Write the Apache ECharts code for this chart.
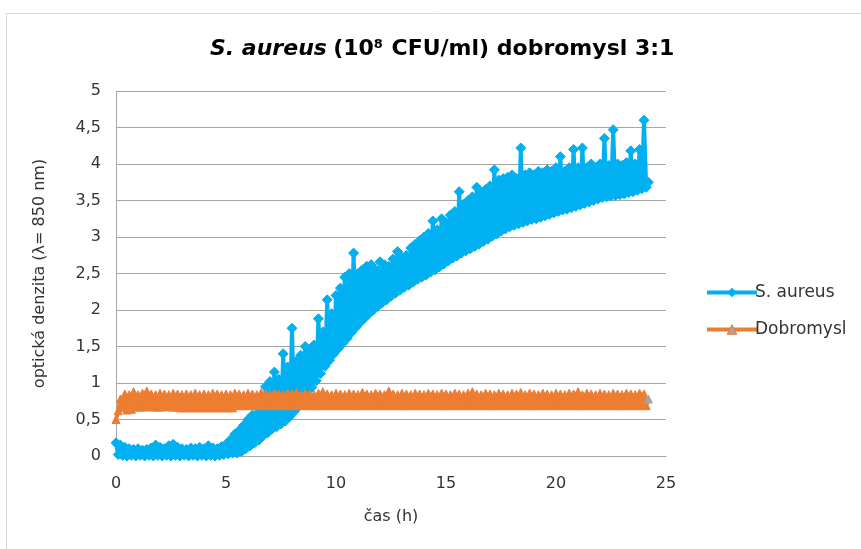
<!DOCTYPE html>
<html>
<head>
<meta charset="utf-8">
<script src="https://cdn.jsdelivr.net/npm/echarts@6/dist/echarts.min.js"></script>
<style>html,body{margin:0;padding:0;background:#fff}#c{width:861px;height:549px}</style>
</head>
<body>
<div id="c"></div>
<script>
// sampling times (h)
var time = [
0.0,0.1,0.2,0.3,0.4,0.5,0.6,0.7,0.8,0.9,
1.0,1.1,1.2,1.3,1.4,1.5,1.6,1.7,1.8,1.9,
2.0,2.1,2.2,2.3,2.4,2.5,2.6,2.7,2.8,2.9,
3.0,3.1,3.2,3.3,3.4,3.5,3.6,3.7,3.8,3.9,
4.0,4.1,4.2,4.3,4.4,4.5,4.6,4.7,4.8,4.9,
5.0,5.1,5.2,5.3,5.4,5.5,5.6,5.7,5.8,5.9,
6.0,6.1,6.2,6.3,6.4,6.5,6.6,6.7,6.8,6.9,
7.0,7.1,7.2,7.3,7.4,7.5,7.6,7.7,7.8,7.9,
8.0,8.1,8.2,8.3,8.4,8.5,8.6,8.7,8.8,8.9,
9.0,9.1,9.2,9.3,9.4,9.5,9.6,9.7,9.8,9.9,
10.0,10.1,10.2,10.3,10.4,10.5,10.6,10.7,10.8,10.9,
11.0,11.1,11.2,11.3,11.4,11.5,11.6,11.7,11.8,11.9,
12.0,12.1,12.2,12.3,12.4,12.5,12.6,12.7,12.8,12.9,
13.0,13.1,13.2,13.3,13.4,13.5,13.6,13.7,13.8,13.9,
14.0,14.1,14.2,14.3,14.4,14.5,14.6,14.7,14.8,14.9,
15.0,15.1,15.2,15.3,15.4,15.5,15.6,15.7,15.8,15.9,
16.0,16.1,16.2,16.3,16.4,16.5,16.6,16.7,16.8,16.9,
17.0,17.1,17.2,17.3,17.4,17.5,17.6,17.7,17.8,17.9,
18.0,18.1,18.2,18.3,18.4,18.5,18.6,18.7,18.8,18.9,
19.0,19.1,19.2,19.3,19.4,19.5,19.6,19.7,19.8,19.9,
20.0,20.1,20.2,20.3,20.4,20.5,20.6,20.7,20.8,20.9,
21.0,21.1,21.2,21.3,21.4,21.5,21.6,21.7,21.8,21.9,
22.0,22.1,22.2,22.3,22.4,22.5,22.6,22.7,22.8,22.9,
23.0,23.1,23.2,23.3,23.4,23.5,23.6,23.7,23.8,23.9,
24.0,24.1,24.2
];

var sAureus = [
0.18,0.02,0.15,0.01,0.12,0.00,0.10,0.01,0.09,0.00,
0.10,0.01,0.08,0.00,0.09,0.01,0.11,0.00,0.15,0.01,
0.12,0.00,0.10,0.01,0.14,0.00,0.16,0.01,0.12,0.00,
0.10,0.01,0.09,0.00,0.11,0.01,0.10,0.00,0.12,0.01,
0.10,0.00,0.14,0.01,0.11,0.00,0.10,0.01,0.13,0.02,
0.16,0.03,0.22,0.04,0.30,0.04,0.35,0.06,0.42,0.10,
0.50,0.14,0.56,0.18,0.70,0.22,0.82,0.28,0.95,0.32,
1.02,0.37,1.15,0.40,1.05,0.44,1.40,0.48,1.22,0.54,
1.75,0.61,1.30,0.68,1.38,0.76,1.50,0.84,1.45,0.94,
1.52,1.03,1.88,1.13,1.70,1.23,2.14,1.31,1.95,1.40,
2.20,1.47,2.30,1.54,2.45,1.61,2.50,1.69,2.78,1.76,
2.50,1.83,2.55,1.89,2.60,1.95,2.62,2.00,2.55,2.05,
2.66,2.10,2.62,2.14,2.60,2.19,2.70,2.23,2.80,2.27,
2.72,2.31,2.75,2.34,2.85,2.38,2.90,2.42,2.95,2.45,
3.00,2.48,3.05,2.52,3.22,2.55,3.10,2.59,3.25,2.63,
3.20,2.67,3.30,2.71,3.35,2.74,3.62,2.78,3.45,2.81,
3.50,2.84,3.55,2.87,3.68,2.90,3.60,2.94,3.65,2.97,
3.70,3.01,3.92,3.04,3.78,3.08,3.80,3.11,3.82,3.14,
3.85,3.16,3.80,3.18,4.22,3.20,3.85,3.22,3.88,3.24,
3.85,3.25,3.90,3.27,3.88,3.29,3.92,3.31,3.90,3.33,
3.95,3.35,4.10,3.37,3.90,3.38,3.95,3.40,4.20,3.42,
3.95,3.44,4.22,3.46,3.95,3.48,4.00,3.50,3.95,3.52,
4.00,3.54,4.35,3.55,3.98,3.56,4.47,3.57,4.00,3.58,
3.98,3.59,4.02,3.61,4.18,3.62,4.00,3.64,4.20,3.66,
4.60,3.68,3.75
];

var dobromysl = [
0.50,0.62,0.78,0.66,0.85,0.63,0.84,0.64,0.88,0.67,
0.84,0.67,0.86,0.67,0.89,0.68,0.85,0.67,0.84,0.67,
0.86,0.67,0.85,0.68,0.84,0.67,0.86,0.67,0.85,0.66,
0.84,0.66,0.85,0.66,0.84,0.66,0.86,0.66,0.84,0.66,
0.85,0.66,0.84,0.66,0.86,0.66,0.85,0.66,0.84,0.66,
0.85,0.66,0.84,0.66,0.86,0.69,0.85,0.69,0.84,0.69,
0.86,0.69,0.85,0.69,0.84,0.69,0.87,0.69,0.85,0.69,
0.84,0.69,0.86,0.69,0.85,0.69,0.84,0.69,0.86,0.69,
0.85,0.69,0.87,0.69,0.84,0.69,0.86,0.69,0.85,0.69,
0.84,0.69,0.86,0.69,0.88,0.69,0.85,0.69,0.84,0.69,
0.86,0.69,0.85,0.69,0.84,0.69,0.86,0.69,0.85,0.69,
0.84,0.69,0.87,0.69,0.85,0.69,0.84,0.69,0.86,0.69,
0.85,0.69,0.84,0.69,0.89,0.69,0.85,0.69,0.84,0.69,
0.86,0.69,0.85,0.69,0.84,0.69,0.86,0.69,0.85,0.69,
0.84,0.69,0.86,0.69,0.85,0.69,0.84,0.69,0.86,0.69,
0.85,0.69,0.84,0.69,0.86,0.69,0.85,0.69,0.84,0.69,
0.86,0.69,0.88,0.69,0.85,0.69,0.84,0.69,0.86,0.69,
0.85,0.69,0.84,0.69,0.86,0.69,0.85,0.69,0.84,0.69,
0.86,0.69,0.85,0.69,0.87,0.69,0.84,0.69,0.86,0.69,
0.85,0.69,0.84,0.69,0.86,0.69,0.85,0.69,0.84,0.69,
0.86,0.69,0.85,0.69,0.84,0.69,0.86,0.69,0.85,0.69,
0.88,0.69,0.84,0.69,0.86,0.69,0.85,0.69,0.84,0.69,
0.86,0.69,0.85,0.69,0.84,0.69,0.86,0.69,0.85,0.69,
0.84,0.69,0.86,0.69,0.85,0.69,0.84,0.69,0.86,0.69,
0.85,0.69,0.78
];

var seriesNames = ['S. aureus', 'Dobromysl'];
var xTicks = [0, 5, 10, 15, 20, 25];
var yTicks = [0, 0.5, 1, 1.5, 2, 2.5, 3, 3.5, 4, 4.5, 5];

var FONT = '"DejaVu Sans", "Open Sans", sans-serif';
var BLUE = '#00b0f0', ORANGE = '#ed7d31', GREY = '#a5a5a5', TXT = '#333';

function pairs(ys) { return ys.map(function (v, i) { return [time[i], v]; }); }
var blueData = pairs(sAureus);
var orangeData = pairs(dobromysl);
var last = orangeData.length - 1;
orangeData[last] = { value: orangeData[last], itemStyle: { color: GREY, borderColor: GREY } };

var chart = echarts.init(document.getElementById('c'), null, { renderer: 'canvas' });
chart.setOption({
  animation: false,
  backgroundColor: '#fff',
  textStyle: { fontFamily: FONT },
  graphic: [{
    type: 'rect', silent: true, z: -10,
    shape: { x: 6.5, y: 13.5, width: 900, height: 600 },
    style: { fill: 'none', stroke: '#d9d9d9', lineWidth: 1 }
  }],
  title: {
    text: '{i|S. aureus} {n|(10}{s|8}{n| CFU/ml) dobromysl 3:1}',
    left: 205, top: 33,
    textStyle: {
      rich: {
        i: { fontFamily: FONT, fontSize: 22, fontWeight: 'bold', fontStyle: 'italic', color: '#000' },
        n: { fontFamily: FONT, fontSize: 22, fontWeight: 'bold', color: '#000' },
        s: { fontFamily: FONT, fontSize: 13, fontWeight: 'bold', color: '#000', padding: [0, 1, 10, 0] }
      }
    }
  },
  legend: {
    orient: 'vertical', left: 700, top: 279,
    itemWidth: 50, itemHeight: 12, itemGap: 20,
    lineStyle: { width: 4 },
    data: [
      { name: seriesNames[0] },
      { name: seriesNames[1], itemStyle: { color: GREY, borderColor: ORANGE, borderWidth: 1 } }
    ],
    textStyle: { fontFamily: FONT, fontSize: 17, color: TXT, padding: [0, 0, 0, -7] }
  },
  grid: { left: 116, right: 195, top: 91, bottom: 93, containLabel: false },
  xAxis: {
    type: 'value', min: xTicks[0], max: xTicks[xTicks.length - 1], interval: 5,
    name: 'čas (h)', nameLocation: 'middle', nameGap: 53,
    nameTextStyle: { fontFamily: FONT, fontSize: 16, color: TXT },
    axisLine: { show: true, lineStyle: { color: '#a6a6a6', width: 1 } },
    axisTick: { show: false },
    splitLine: { show: false },
    axisLabel: { fontFamily: FONT, fontSize: 16, color: TXT, margin: 20 }
  },
  yAxis: {
    type: 'value', min: yTicks[0], max: yTicks[yTicks.length - 1], interval: 0.5,
    name: 'optická denzita (λ= 850 nm)', nameLocation: 'middle', nameGap: 68, nameRotate: 90,
    nameTextStyle: { fontFamily: FONT, fontSize: 16, color: TXT },
    axisLine: { show: true, lineStyle: { color: '#a6a6a6', width: 1 } },
    axisTick: { show: false },
    splitLine: { show: true, lineStyle: { color: '#a6a6a6', width: 1 } },
    axisLabel: {
      fontFamily: FONT, fontSize: 16, color: TXT, margin: 15,
      formatter: function (v) { return String(v).replace('.', ','); }
    }
  },
  series: [
    {
      name: seriesNames[0], type: 'line', data: blueData,
      symbol: 'diamond', symbolSize: 10, showSymbol: true,
      lineStyle: { color: BLUE, width: 4 },
      itemStyle: { color: BLUE, borderColor: BLUE },
      z: 2
    },
    {
      name: seriesNames[1], type: 'line', data: orangeData,
      symbol: 'triangle', symbolSize: 8, showSymbol: true,
      lineStyle: { color: ORANGE, width: 4 },
      itemStyle: { color: ORANGE, borderColor: ORANGE },
      z: 3
    }
  ]
});
</script>
</body>
</html>
